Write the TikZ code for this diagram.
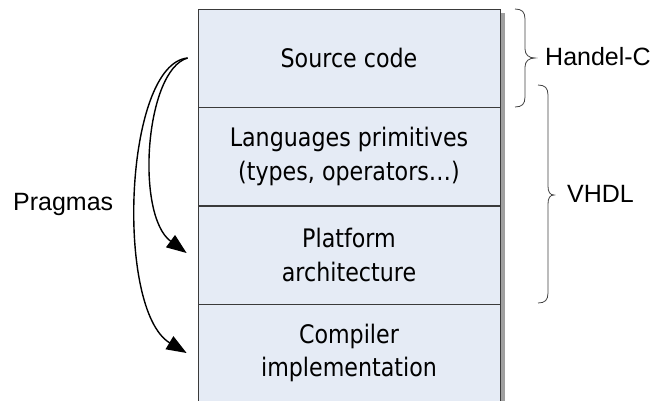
\documentclass[tikz,border=0pt]{standalone}
\usepackage{fontspec}
\setmainfont{Liberation Sans}
\newfontfamily\boxfont[FakeStretch=0.87]{DejaVu Sans}
\usetikzlibrary{arrows.meta}
\definecolor{layerfill}{HTML}{E5EBF5}
\definecolor{layerline}{HTML}{3A3A3A}
\definecolor{bracecol}{HTML}{404040}
\begin{document}
\begin{tikzpicture}[x=1pt,y=-1pt,
  layer/.style={draw=layerline, line width=0.8pt, fill=layerfill,
    minimum width=302pt, minimum height=98pt, inner sep=0pt,
    align=center, font=\boxfont\fontsize{25.5}{33.5}\selectfont},
  sidelabel/.style={inner sep=0pt, font=\fontsize{25}{30}\selectfont},
  brace/.style={draw=bracecol, line width=0.8pt},
  pragma/.style={line width=1.4pt, -{Triangle[length=20pt,width=15pt]}}]
\useasboundingbox (0,0) rectangle (657,400);

% drop shadow behind the stack
\fill[gray!75] (202,13) rectangle (505,410);

% the four layers
\node[layer] (src)  at (349,58)    {Source code};
\node[layer] (lang) at (349,156.5) {Languages primitives\\(types, operators\ldots)};
\node[layer] (plat) at (349,255)   {Platform\\architecture};
\node[layer] (comp) at (349,353)   {Compiler\\implementation};

% braces on the right
\draw[brace] (515,9) .. controls (522,9) and (525,12) .. (525,19) -- (525,49)
  .. controls (525,55) and (529,58) .. (535,58)
  .. controls (529,58) and (525,61) .. (525,67) -- (525,97)
  .. controls (525,104) and (522,107) .. (515,107);
\draw[brace] (538,85) .. controls (545,85) and (548,88) .. (548,95) -- (548,186)
  .. controls (548,192) and (550,195) .. (554,195)
  .. controls (550,195) and (548,198) .. (548,204) -- (548,293)
  .. controls (548,300) and (545,303) .. (538,303);

\node[sidelabel, anchor=base west] (hc)   at (545,65)  {Handel-C};
\node[sidelabel, anchor=base west] (vhdl) at (567,202) {VHDL};
\node[sidelabel, anchor=base west] (prag) at (13,210)  {Pragmas};

% pragma arrows from the source code to the lower layers
\coordinate (pstart) at ([xshift=-10pt]src.west);
\coordinate (pplat)  at ([xshift=-11pt,yshift=2pt]plat.west);
\coordinate (pcomp)  at ([xshift=-11pt,yshift=0pt]comp.west);
\draw[pragma] (pstart) .. controls (145,70) and (135,215) .. (pplat);
\draw[pragma] (pstart) .. controls (124,64) and (115,310) .. (pcomp);
\end{tikzpicture}
\end{document}
